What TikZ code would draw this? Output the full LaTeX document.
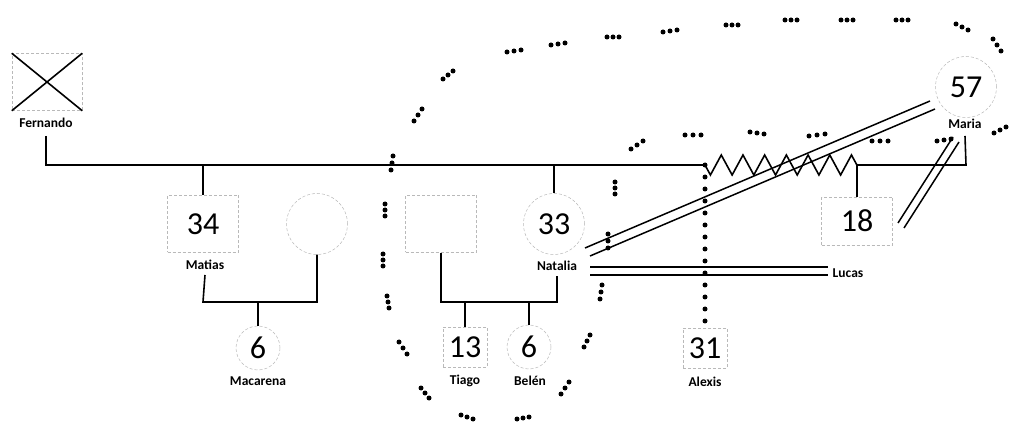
\documentclass[tikz,border=0pt]{standalone}
\usepackage{fontspec}
\setmainfont{Carlito}
\usetikzlibrary{decorations.pathmorphing}

\tikzset{
  link/.style={line width=1.6pt},
  person/.style={draw=gray!55, densely dashed, line width=0.5pt, inner sep=0pt, font=\fontsize{32}{32}\selectfont},
  male/.style={person, minimum width=71pt, minimum height=57pt},
  female/.style={person, circle, minimum size=61pt},
  kidm/.style={person, minimum width=44pt, minimum height=40pt},
  kidf/.style={person, circle, minimum size=44pt},
  nametag/.style={font=\fontsize{13.5}{13.5}\selectfont\bfseries, inner sep=0pt},
  cutoff/.style={line width=1.5pt},
  dotline/.style={line width=5pt, line cap=round, dash pattern=on 0pt off 12pt}
}

\begin{document}
\begin{tikzpicture}[x=1pt, y=-1pt]
		\fill[white] (0,0) rectangle (1021,422);
		\useasboundingbox (0,0) rectangle (1021,422);
		%
		%Fernando
		\node[person, minimum width=70pt, minimum height=57pt] (fer) at (47,82) {};
		\draw[link] (fer.north west) -- (fer.south east) (fer.north east) -- (fer.south west);
		\node[nametag] (fername) at (46,123) {Fernando};
		%
		%Hijos de Fernando
		\node[male] (matias) at (203,224) {34};
		\node[nametag] (matiasname) at (205,265) {Matias};
		\node[female] (matiaswife) at (317,224) {};
		\node[male] (partner) at (441,224) {};
		\node[female] (natalia) at (554,224) {33};
		\node[nametag] (natalianame) at (557,266) {Natalia};
		%
		%Nietos
		\node[kidf] (macarena) at (258,348) {6};
		\node[nametag] (macarenaname) at (258,381) {Macarena};
		\node[kidm] (tiago) at (465,347) {13};
		\node[nametag] (tiagoname) at (465,381) {Tiago};
		\node[kidf] (belen) at (529,347) {6};
		\node[nametag] (belenname) at (530,381) {Belén};
		%
		%Maria, Lucas, Alexis
		\node[female] (maria) at (966,87) {57};
		\node[nametag] (marianame) at (965,124) {Maria};
		\node[male, minimum height=48pt] (lucas) at (857,221) {18};
		\node[nametag] (lucasname) at (848,273) {Lucas};
		\node[kidm] (alexis) at (705,348) {31};
		\node[nametag] (alexisname) at (705,382) {Alexis};
		%
		%Linea principal
		\coordinate (mainL) at (46,165);
		\coordinate (mainR) at (705,165);
		\coordinate (zigR) at (857,165);
		\coordinate (kids) at (0,302);
		\draw[link] ([yshift=-8pt]fername.south) -- (mainL) -- (mainR);
		\draw[link] (matias.north |- mainL) -- (matias.north);
		\draw[link] (natalia.north |- mainL) -- (natalia.north);
		%
		%Matias y Macarena
		\draw[link] ([yshift=-5pt]matiasname.south) -- (matias |- kids) -- (matiaswife |- kids) -- (matiaswife.south);
		\draw[link] (macarena.north |- kids) -- (macarena.north);
		%
		%Natalia, Tiago y Belen
		\draw[link] (partner.south) -- (partner |- kids) -- (natalianame |- kids) -- ([yshift=-5pt]natalianame.south);
		\draw[link] (tiago.north |- kids) -- (tiago.north);
		\draw[link] (belen.north |- kids) -- (belen.north);
		%
		%Maria y Lucas
		\draw[link, decorate, decoration={zigzag, mirror, segment length=21.7pt, amplitude=10pt}] (mainR) -- (zigR);
		\draw[link] (zigR) -- (maria |- zigR) -- ([yshift=-7pt]marianame.south);
		\draw[link] (zigR) -- (lucas.north);
		%
		%Alexis
		\draw[dotline] (mainR) -- (alexis.north);
		%
		%Cortes
		\coordinate (cutMa) at (930,101);
		\coordinate (cutNa) at (585,248);
		\coordinate (cutLu) at (590,267);
		\coordinate (cutLe) at (828,267);
		\coordinate (cutMb) at (953,137);
		\coordinate (cutLb) at (898,223);
		\draw[cutoff] (cutMa) -- (cutNa) ([shift={(5,8)}]cutMa) -- ([shift={(5,8)}]cutNa);
		\draw[cutoff] (cutLu) -- (cutLe) ([yshift=-8pt]cutLu) -- ([yshift=-8pt]cutLe);
		\draw[cutoff] (cutMb) -- (cutLb) ([shift={(6,5)}]cutMb) -- ([shift={(6,5)}]cutLb);
		%
		%Hogar
		\foreach \x/\y/\dx/\dy in {392/163/-1/7, 385/210/0/6, 383/260/0/6, 388/302/1/6, 403/348/4/6,
			425/393/4/5, 467/417/6/2, 523/418/6/-1, 565/388/4/-6, 587/341/3/-6, 601/292/1/-7,
			608/241/0/-7, 615/188/0/-6, 637/145/6/-4, 693/135/8/0, 757/133/7/1, 817/135/8/-1,
			880/141/8/0, 944/140/7/-1, 1000/130/6/-3, 418/115/4/-6, 448/75/5/-4, 514/51/7/-1,
			558/44/7/-1, 613/37/6/0, 670/31/7/-1, 732/25/6/0, 791/20/6/0, 847/20/6/0,
			902/20/6/0, 962/27/6/3, 997/45/4/6}
			\fill ({\x-\dx},{\y-\dy}) circle (2.5pt) (\x,\y) circle (2.5pt) ({\x+\dx},{\y+\dy}) circle (2.5pt);
	\end{tikzpicture}
\end{document}
